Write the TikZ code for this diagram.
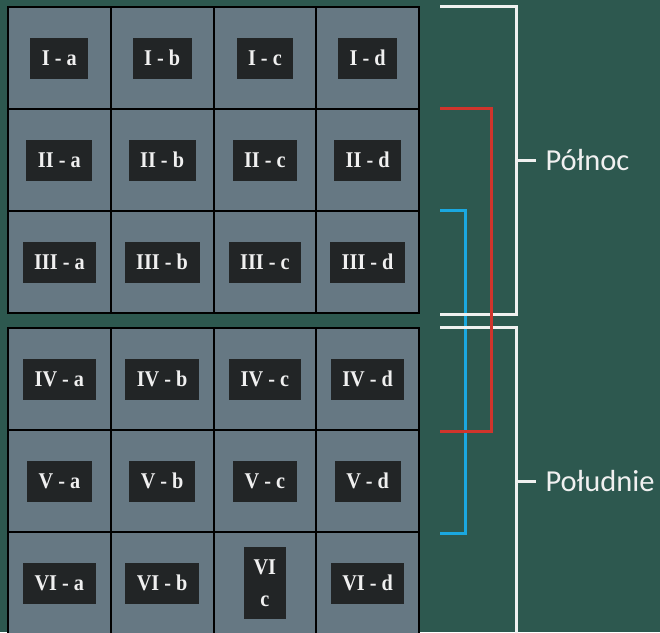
\documentclass[tikz,border=0pt]{standalone}
\usepackage{fontspec}
\usepackage{tikz}
\usetikzlibrary{positioning}
\setmainfont{Liberation Serif}[FakeStretch=0.9]
\newfontfamily\sidefont{Carlito}
\definecolor{board}{RGB}{45,88,79}
\definecolor{cellgray}{RGB}{102,120,131}
\definecolor{tagdark}{RGB}{34,37,38}
\definecolor{bred}{RGB}{208,52,44}
\definecolor{bblue}{RGB}{26,168,224}
\definecolor{bwhite}{RGB}{240,240,240}

\begin{document}
\begin{tikzpicture}[x=1pt,y=-1pt,cell/.style={draw=black,line width=2pt,fill=cellgray,minimum width=102.75pt,minimum height=102pt,inner sep=0pt},tag/.style={fill=tagdark,text=bwhite,font=\bfseries\fontsize{22.5}{32}\selectfont,minimum height=41pt,inner xsep=11.5pt,inner ysep=0pt},brk/.style={line width=3pt},side/.style={text=bwhite,font=\sidefont\fontsize{30.5}{36}\selectfont,inner sep=8pt}]
\fill[board] (0,0) rectangle (660,632);
\useasboundingbox (0,0) rectangle (660,632);
% grid of six rows, gap after row III
\foreach \r/\rn in {1/I,2/II,3/III,4/IV,5/V,6/VI}{
  \foreach \c/\cn in {1/a,2/b,3/c,4/d}{
    \pgfmathsetmacro\xx{8+102.75*(\c-0.5)}
    \pgfmathsetmacro\yy{7+102*(\r-0.5)+15*(\r>3)}
    \node[cell] (c\r\c) at (\xx,\yy) {};
    \ifnum\r\c=63
      \node[tag,align=center,minimum width=42pt,minimum height=72pt,inner xsep=9pt] (t\r\c) at (c\r\c) {VI\\c};
    \else
      \node[tag] (t\r\c) at (c\r\c) {\rn{} - \cn};
    \fi
  }
}
% brackets
\draw[brk,bblue] ([xshift=20pt]c34.north east) -| ([xshift=45pt]c54.south east) -- ([xshift=20pt]c54.south east);
\draw[brk,bwhite] ([xshift=20pt]c14.north east) -| ([xshift=96pt]c34.south east) -- ([xshift=20pt]c34.south east);
\draw[brk,bwhite] ([xshift=20pt]c44.north east) -| ([xshift=96pt]c64.south east) -- ([xshift=20pt]c64.south east);
\draw[brk,bred] ([xshift=20pt]c24.north east) -| ([xshift=71pt]c44.south east) -- ([xshift=20pt]c44.south east);
\draw[brk,bwhite] ([xshift=96pt]c24.east) -- ++(20,0) node[side,right] (north) {Północ};
\draw[brk,bwhite] ([xshift=96pt]c54.east) -- ++(20,0) node[side,right] (south) {Południe};
\end{tikzpicture}
\end{document}
